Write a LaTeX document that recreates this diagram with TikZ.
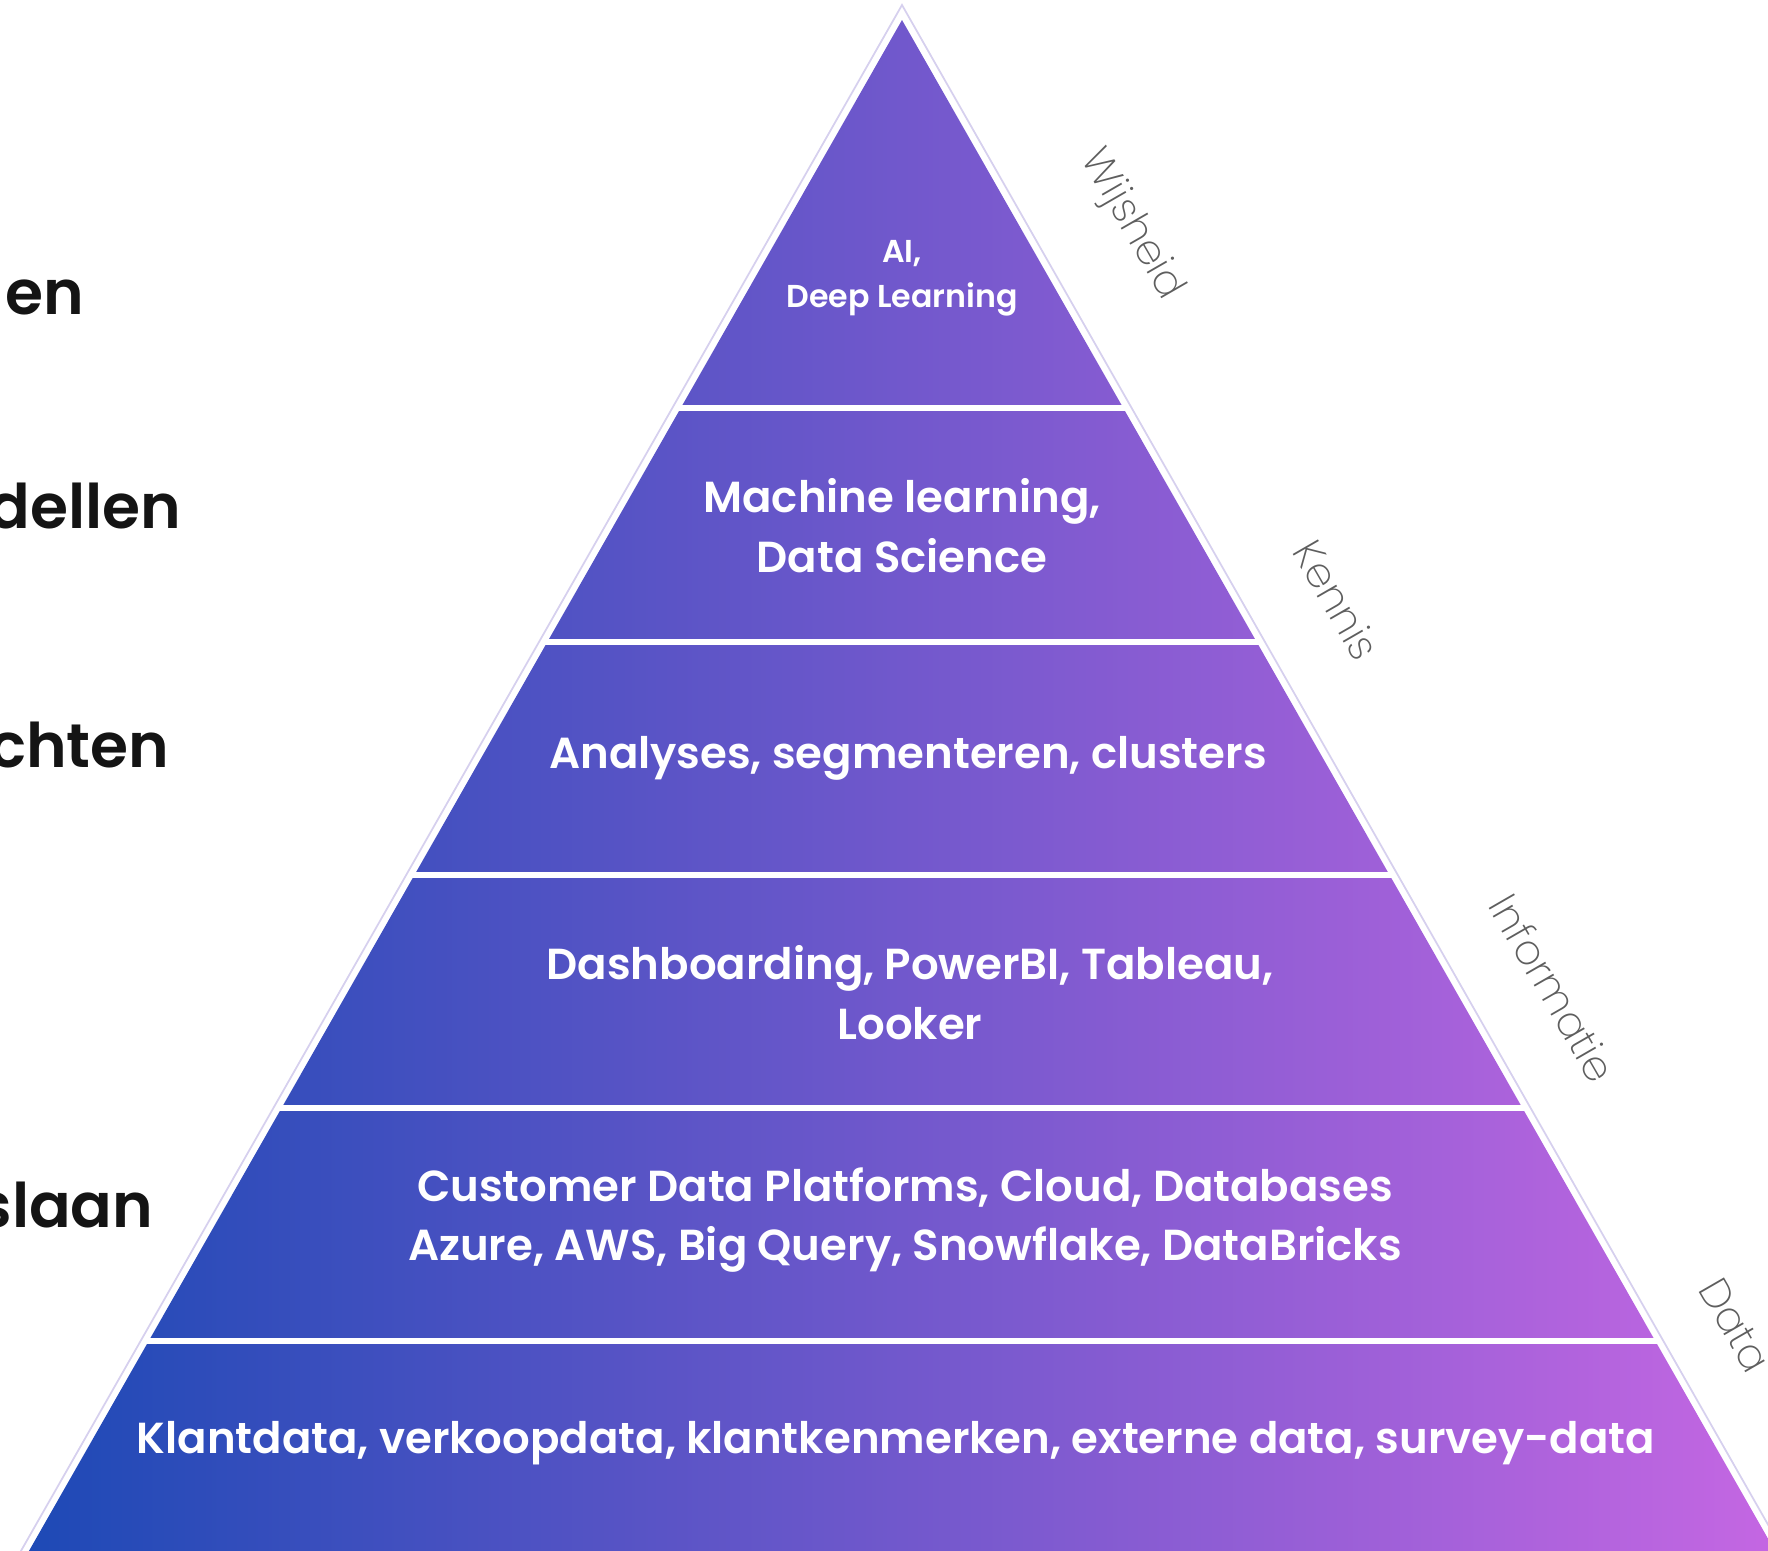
\documentclass[tikz,border=0pt]{standalone}
\usepackage{fontspec}
\setmainfont{Poppins}
\newfontfamily\layerfont{Poppins SemiBold}
\newfontfamily\headfont{Poppins SemiBold}
\newfontfamily\sidefont{Poppins ExtraLight}
\definecolor{pyrblue}{HTML}{1B49B5}
\definecolor{pyrmid}{HTML}{5B56C9}
\definecolor{pyrpink}{HTML}{C767E3}
\definecolor{edgeline}{HTML}{D6D0EE}
\definecolor{sidegray}{HTML}{5E5E5E}

\begin{document}
\begin{tikzpicture}[x=0.01cm, y=-0.01cm,
        layer/.style={text=white, align=center, font=\layerfont\fontsize{12.35}{17}\selectfont},
        head/.style={anchor=base east, inner sep=0pt, text=black!92, font=\headfont\fontsize{17.5}{21}\selectfont},
        side/.style={rotate=-60, text=sidegray, font=\sidefont\fontsize{11.8}{14}\selectfont},
        sepline/.style={white, line width=1.8pt}]
        \useasboundingbox (0,0) rectangle (1768,1550);
        % Pyramid body with thin outline
        \draw[edgeline, line width=0.5pt] (902,5) -- (-7,1600) -- (1811,1600) -- cycle;
        \shade[left color=pyrblue, middle color=pyrmid, right color=pyrpink]
            (902,20) -- (1,1600) -- (1803,1600) -- cycle;
        \foreach \y in {408, 642, 875, 1108, 1341} {
            \draw[sepline] ({898-0.57*(\y-20)}, \y) -- ({906+0.57*(\y-20)}, \y);
        }
        % Layer texts
        \node[layer, font=\layerfont\fontsize{9}{12.8}\selectfont] (wisdom) at (902,278) {AI,\\Deep Learning};
        \node[layer] (knowledge) at (902,526) {Machine learning,\\Data Science};
        \node[layer] (insight) at (908,758) {Analyses, segmenteren, clusters};
        \node[layer] (info) at (910,993) {Dashboarding, PowerBI, Tableau,\\Looker};
        \node[layer] (storage) at (905,1220) {Customer Data Platforms, Cloud, Databases\\Azure, AWS, Big Query, Snowflake, DataBricks};
        \node[layer] (data) at (896,1443) {Klantdata, verkoopdata, klantkenmerken, externe data, survey-data};
        % Cut-off headings on the left
        \foreach \y/\xe/\word in {314/85/en, 528/182/dellen, 767/170/chten, 1227/154/slaan} {
            \node[head] (head-\word) at (\xe,\y) {\word};
        }
        % Levels along the right edge
        \foreach \x/\y/\word in {1131/225/Wijsheid, 1337/600/Kennis, 1553/988/Informatie, 1735/1325/Data} {
            \node[side] (side-\word) at (\x,\y) {\word};
        }
    \end{tikzpicture}
\end{document}
